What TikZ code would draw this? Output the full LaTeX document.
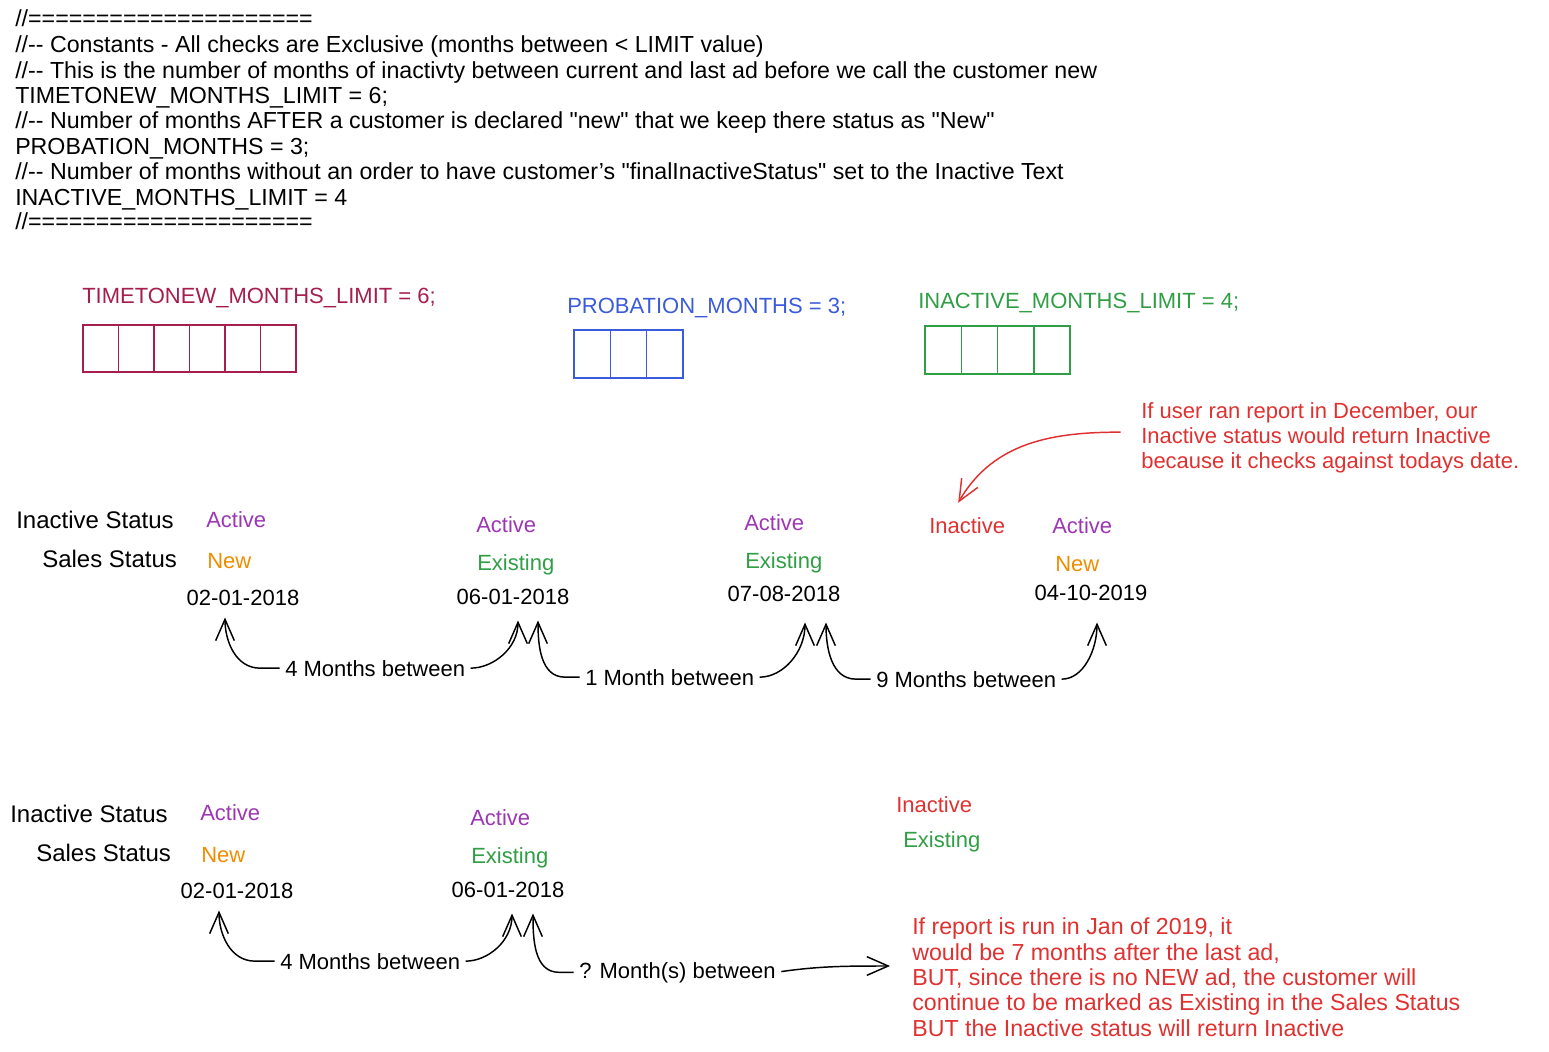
\documentclass[tikz,border=0pt]{standalone}
\usepackage{fontspec}
\setmainfont{Liberation Sans}
\newfontfamily\qfont{Liberation Sans}[Ligatures=TeXOff]
\usetikzlibrary{arrows.meta,calc}
\definecolor{crim}{HTML}{A61E4D}
\definecolor{blu}{HTML}{3B5BDB}
\definecolor{grn}{HTML}{2F9E44}
\definecolor{rd}{HTML}{E03131}
\definecolor{prp}{HTML}{9C36B5}
\definecolor{org}{HTML}{F08C00}
\def\dd{-{}-}
\def\qq{{\qfont\char34}}
\begin{document}
\begin{tikzpicture}[x=0.75pt,y=0.75pt,
  txt/.style={inner sep=0pt, anchor=base west, font=\fontsize{16.5}{19}\selectfont},
  code/.style={txt, font=\fontsize{17.4}{19}\selectfont},
  head/.style={txt, font=\fontsize{18}{19}\selectfont},
  ctr/.style={txt, anchor=base},
  arr/.style={line width=1.1pt, black, -{Straight Barb[length=16pt,width=14pt]}, shorten <=4pt},
  rarr/.style={arr, rd},
  box/.style={line width=1.1pt}]
\useasboundingbox (0,0) rectangle (1549,-1052);

% ---- top code block
\node[code] (c1) at (15,-27) {//=====================};
\node[code] (c2) at (15,-53) {//\dd{} Constants - All checks are Exclusive (months between < LIMIT value)};
\node[code] (c3) at (15,-79) {//\dd{} This is the number of months of inactivty between current and last ad before we call the customer new};
\node[code] (c4) at (15,-104) {TIMETONEW\_MONTHS\_LIMIT = 6;};
\node[code] (c5) at (15,-129) {//\dd{} Number of months AFTER a customer is declared \qq new\qq{} that we keep there status as \qq New\qq};
\node[code] (c6) at (15,-155) {PROBATION\_MONTHS = 3;};
\node[code] (c7) at (15,-180) {//\dd{} Number of months without an order to have customer's \qq finalInactiveStatus\qq{} set to the Inactive Text};
\node[code] (c8) at (15,-205) {INACTIVE\_MONTHS\_LIMIT = 4};
\node[code] (c9) at (15,-229) {//=====================};

% ---- constants with boxes
\node[txt, text=crim] (k1) at (82,-303) {TIMETONEW\_MONTHS\_LIMIT = 6;};
\foreach \i in {0,...,5}
  \draw[box, crim] (83+\i*35.5,-325) rectangle ++(35.5,-47);
\node[txt, text=blu] (k2) at (567,-313) {PROBATION\_MONTHS = 3;};
\foreach \i in {0,...,2}
  \draw[box, blu] (574+\i*36.3,-330) rectangle ++(36.3,-48);
\node[txt, text=grn] (k3) at (918,-308) {INACTIVE\_MONTHS\_LIMIT = 4;};
\foreach \i in {0,...,3}
  \draw[box, grn] (925+\i*36.3,-326) rectangle ++(36.3,-48);

% ---- annotation top right
\node[txt, text=rd] (a1) at (1141,-418) {If user ran report in December, our};
\node[txt, text=rd] (a2) at (1141,-443) {Inactive status would return Inactive};
\node[txt, text=rd] (a3) at (1141,-468) {because it checks against todays date.};

% ---- row 1
\node[head] (r1i) at (16,-528) {Inactive Status};
\node[head] (r1s) at (42,-567) {Sales Status};
\node[txt, text=prp] (s1) at (206,-527) {Active};
\node[txt, text=org] (n1) at (207,-568) {New};
\node[ctr] (d1) at (243,-605) {02-01-2018};
\node[txt, text=prp] (s2) at (476,-532) {Active};
\node[txt, text=grn] (n2) at (477,-570) {Existing};
\node[ctr] (d2) at (513,-604) {06-01-2018};
\node[txt, text=prp] (s3) at (744,-530) {Active};
\node[txt, text=grn] (n3) at (745,-568) {Existing};
\node[ctr] (d3) at (784,-601) {07-08-2018};
\node[txt, text=rd] (i4) at (929,-533) {Inactive};
\node[txt, text=prp] (s4) at (1052,-533) {Active};
\node[txt, text=org] (n4) at (1055,-571) {New};
\node[ctr] (d4) at (1091,-600) {04-10-2019};
\node[txt] (m1) at (285,-676) {4 Months between};
\node[txt] (m2) at (585,-685) {1 Month between};
\node[txt] (m3) at (876,-687) {9 Months between};

\draw[arr] (m1.west) -- ++(-25,0) to[out=180,in=-90] ($(d1.south)+(-18,-12)$);
\draw[arr] (m1.east) to[out=0,in=-90] ($(d2.south)+(5,-16)$);
\draw[arr] (m2.west) -- ++(-20,0) to[out=180,in=-90] ($(d2.south)+(25,-16)$);
\draw[arr] (m2.east) to[out=0,in=-90] ($(d3.south)+(21,-21)$);
\draw[arr] (m3.west) -- ++(-20,0) to[out=180,in=-90] ($(d3.south)+(42,-21)$);
\draw[arr] (m3.east) to[out=0,in=-90] ($(d4.south)+(6,-22)$);

\draw[rarr] ($(a2.west)+(-15,3)$) to[out=180,in=60] ($(i4.north)+(-9,14)$);

% ---- row 2
\node[head] (r2i) at (10,-822) {Inactive Status};
\node[head] (r2s) at (36,-861) {Sales Status};
\node[txt, text=prp] (s5) at (200,-820) {Active};
\node[txt, text=org] (n5) at (201,-862) {New};
\node[ctr] (d5) at (237,-898) {02-01-2018};
\node[txt, text=prp] (s6) at (470,-825) {Active};
\node[txt, text=grn] (n6) at (471,-863) {Existing};
\node[ctr] (d6) at (508,-897) {06-01-2018};
\node[txt, text=rd] (i7) at (896,-812) {Inactive};
\node[txt, text=grn] (n7) at (903,-847) {Existing};
\node[txt] (m4) at (280,-969) {4 Months between};
\node[txt] (q) at (579,-978) {? Month(s) between};
\coordinate (qend) at (890,-966);

\draw[arr] (m4.west) -- ++(-25,0) to[out=180,in=-90] ($(d5.south)+(-18,-12)$);
\draw[arr] (m4.east) to[out=0,in=-90] ($(d6.south)+(4,-16)$);
\draw[arr] (q.west) -- ++(-20,0) to[out=180,in=-90] ($(d6.south)+(25,-16)$);
\draw[arr] (q.east) to[out=8,in=180] (qend);

% ---- bottom note
\node[code, text=rd] (b1) at (912,-934) {If report is run in Jan of 2019, it};
\node[code, text=rd] (b2) at (912,-960) {would be 7 months after the last ad,};
\node[code, text=rd] (b3) at (912,-985) {BUT, since there is no NEW ad, the customer will};
\node[code, text=rd] (b4) at (912,-1010) {continue to be marked as Existing in the Sales Status};
\node[code, text=rd] (b5) at (912,-1036) {BUT the Inactive status will return Inactive};
\end{tikzpicture}
\end{document}
